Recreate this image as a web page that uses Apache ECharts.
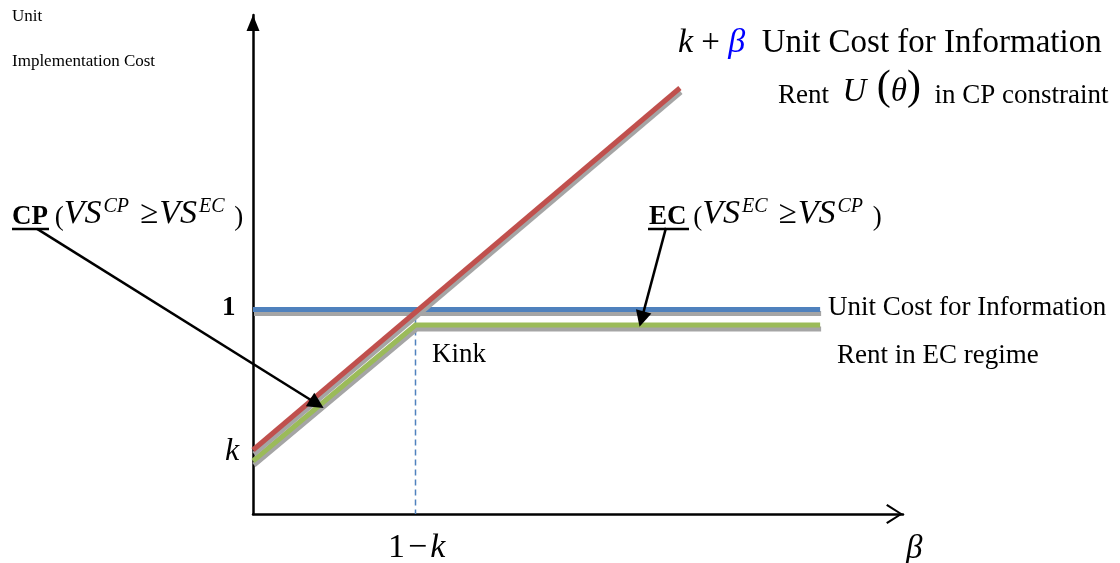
<!DOCTYPE html>
<html><head><meta charset="utf-8">
<script src="https://cdn.jsdelivr.net/npm/echarts@6/dist/echarts.min.js"></script>
<style>html,body{margin:0;padding:0;background:#fff}#c{width:1120px;height:563px}</style>
</head><body><div id="c"></div>
<script>
// ---- data (schematic values) ----
const xRange = [0, 2.8];
const yRange = [0, 2.44];
const kPlusBeta = [[0, 0.313], [1.839, 2.083]];          // red: k + beta
const unitCostInfo = [[0, 1.0], [2.443, 1.0]];            // blue: unit cost for information
const rentEC = [[0, 0.259], [0.70, 0.924], [2.443, 0.924]]; // green: rent in EC regime
const kinkDash = [[0.70, 1.0], [0.70, 0]];
const cpArrow = [[-0.930, 1.394], [0.275, 0.539]];
const ecArrow = [[1.779, 1.399], [1.674, 0.953]];

const SERIF = '"Liberation Serif","Times New Roman",serif';
const chart = echarts.init(document.getElementById('c'), null, {renderer: 'canvas'});

function lineSeries(data, color) {
  return {
    type: 'line', data: data, symbol: 'none', silent: true, clip: false,
    lineStyle: {color: color, width: 5, cap: 'butt', join: 'miter',
      shadowColor: '#A5A5A5', shadowOffsetX: 1, shadowOffsetY: 4, shadowBlur: 0},
    z: 3
  };
}
function arrowSeries(coords) {
  return {
    type: 'lines', coordinateSystem: 'cartesian2d', clip: false, silent: true,
    symbol: ['none', 'triangle'], symbolSize: [12, 16],
    lineStyle: {color: '#000', width: 2.5, opacity: 1, curveness: 0},
    data: [{coords: coords}], z: 6
  };
}
function T(x, y, text, rich, extra) {
  return {type: 'text', x: x, y: y, silent: true, z: 100,
    style: Object.assign({text: text, rich: rich || {}, fill: '#000',
      fontFamily: SERIF, fontSize: 27,
      align: 'left', verticalAlign: 'middle', textAlign: 'left', textVerticalAlign: 'middle'}, extra || {})};
}
const base = {fontFamily: SERIF, fill: '#000', verticalAlign: 'bottom'};
function R(o) { return Object.assign({}, base, o); }
const vsRich = {
  b: R({fontSize: 27, fontWeight: 'bold'}),
  n: R({fontSize: 27}),
  g: R({fontSize: 33, padding: [0, 1, 0, 8]}),
  i: R({fontSize: 34, fontStyle: 'italic'}),
  s: R({fontSize: 20, fontStyle: 'italic', verticalAlign: 'top', padding: [0, 3, 0, 2]})
};

chart.setOption({
  animation: false,
  backgroundColor: '#fff',
  grid: {left: 253, right: 217, top: 15, bottom: 49, containLabel: false},
  xAxis: {
    type: 'value', min: xRange[0], max: xRange[1],
    axisLine: {show: true, onZero: false, lineStyle: {color: '#000', width: 2.5},
      symbol: ['none', 'path://M0,0 L10.5,16.3 L8.7,17.6 L0,3.6 L-8.7,17.6 L-10.5,16.3 Z'],
      symbolSize: [20, 17], symbolOffset: [0, -8.5]},
    axisTick: {show: false}, axisLabel: {show: false}, splitLine: {show: false}
  },
  yAxis: {
    type: 'value', min: yRange[0], max: yRange[1],
    axisLine: {show: true, onZero: false, lineStyle: {color: '#000', width: 2.5},
      symbol: ['none', 'triangle'], symbolSize: [13, 16], symbolOffset: [0, -8]},
    axisTick: {show: false}, axisLabel: {show: false}, splitLine: {show: false}
  },
  series: [
    {type: 'line', data: kinkDash, symbol: 'none', silent: true, clip: false, z: 2,
      lineStyle: {color: '#4F81BD', width: 1.5, type: [6, 4]}},
    lineSeries(unitCostInfo, '#4F81BD'),
    lineSeries(rentEC, '#9BBB59'),
    lineSeries(kPlusBeta, '#C0504D'),
    arrowSeries(cpArrow),
    arrowSeries(ecArrow)
  ],
  graphic: [
    T(12, 17, 'Unit', null, {fontSize: 17}),
    T(12, 62, 'Implementation Cost', null, {fontSize: 17}),
    T(678, 43, '{i|k}{n| + }{bl|β}{n|  Unit Cost for Information}', {
      i: R({fontSize: 34, fontStyle: 'italic'}),
      bl: R({fontSize: 34, fontStyle: 'italic', fill: '#0000FF'}),
      n: R({fontSize: 33})
    }),
    T(778, 88, '{n|Rent  }{i|U}{p| (}{i|θ}{p|)}{n|  in CP constraint}', {
      n: R({fontSize: 27}),
      i: R({fontSize: 33, fontStyle: 'italic'}),
      p: R({fontSize: 42})
    }),
    T(12, 214, '{b|CP}{n| (}{i|VS}{s|CP}{g|≥}{i|VS}{s|EC}{n| )}', vsRich),
    T(649, 214, '{b|EC}{n| (}{i|VS}{s|EC}{g|≥}{i|VS}{s|CP}{n| )}', vsRich),
    {type: 'line', silent: true, z: 100, shape: {x1: 12, y1: 229, x2: 49, y2: 229}, style: {stroke: '#000', lineWidth: 2.5}},
    {type: 'line', silent: true, z: 100, shape: {x1: 648, y1: 229, x2: 689, y2: 229}, style: {stroke: '#000', lineWidth: 2.5}},
    T(222, 308, '1', null, {fontSize: 27, fontWeight: 'bold'}),
    T(828, 308, 'Unit Cost for Information', null, {fontSize: 27}),
    T(432, 355, 'Kink', null, {fontSize: 27}),
    T(837, 356, 'Rent in EC regime', null, {fontSize: 27}),
    T(225, 452, 'k', null, {fontSize: 32, fontStyle: 'italic'}),
    T(388, 548, '{n|1}{m|−}{i|k}', {
      n: R({fontSize: 34}),
      m: R({fontSize: 34, padding: [0, 3, 0, 3]}),
      i: R({fontSize: 34, fontStyle: 'italic'})
    }),
    T(906, 549, 'β', null, {fontSize: 33, fontStyle: 'italic'})
  ]
});
</script>
</body></html>
